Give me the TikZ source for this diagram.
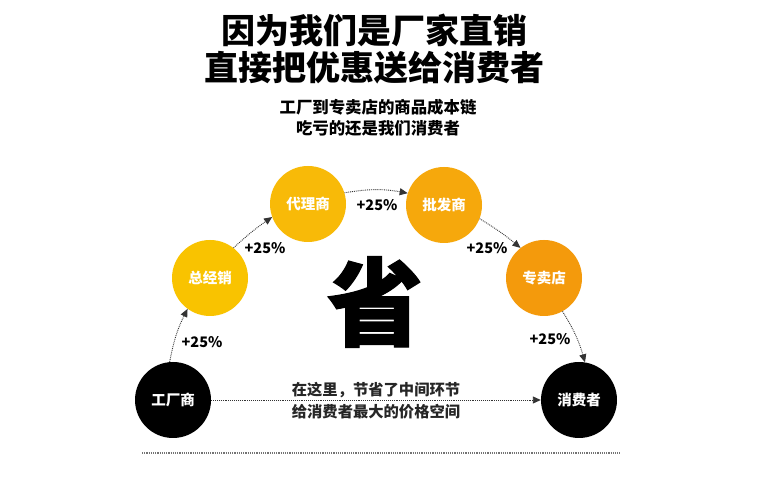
\documentclass[tikz,border=0pt]{standalone}
\usepackage{fontspec}
\usetikzlibrary{arrows.meta}
\newfontfamily\cjk{Noto Sans CJK SC}
\newfontfamily\cjkbig[FakeBold=1.2]{Noto Sans CJK SC}
\definecolor{yA}{HTML}{F9C300}
\definecolor{yB}{HTML}{F8BA08}
\definecolor{yC}{HTML}{F6A80C}
\definecolor{yD}{HTML}{F49A0C}
\definecolor{arrgray}{HTML}{333333}
\begin{document}
\begin{tikzpicture}[x=1pt,y=1pt,
  ball/.style={circle,minimum size=76pt,inner sep=0pt,text=white,font=\cjk\bfseries\fontsize{14.5}{16}\selectfont},
  arr/.style={draw=arrgray,densely dotted,line width=0.9pt,-{Triangle[length=8pt,width=7pt]}},
  pct/.style={font=\cjk\bfseries\fontsize{14.5}{16}\selectfont,text=black},
  cap1/.style={font=\cjk\bfseries\fontsize{34}{38}\selectfont,text=black,inner sep=0pt},
  cap2/.style={font=\cjk\bfseries\fontsize{16.4}{20}\selectfont,text=black,inner sep=0pt},
  cap3/.style={font=\cjk\bfseries\fontsize{15.3}{20}\selectfont,text=black!85,inner sep=0pt}]
\useasboundingbox[fill=white] (0,0) rectangle (773,478);
% titles
\node[cap1] (t1) at (374,448) {因为我们是厂家直销};
\node[cap1] (t2) at (374,410) {直接把优惠送给消费者};
\node[cap2] (s1) at (378,371) {工厂到专卖店的商品成本链};
\node[cap2] (s2) at (378,350) {吃亏的还是我们消费者};
% nodes
\node[ball,fill=black] (f) at (173,78) {工厂商};
\node[ball,fill=black] (c) at (579,78) {消费者};
\node[ball,fill=yA] (z) at (210,200) {总经销};
\node[ball,fill=yB] (d) at (308,274) {代理商};
\node[ball,fill=yC] (p) at (444,273) {批发商};
\node[ball,fill=yD] (s) at (544,200) {专卖店};
% big character
\node[font=\cjkbig\bfseries\fontsize{96}{98}\selectfont,inner sep=0pt] (big) at (375,176) {省};
% arrows
\draw[arr] (f.95) to[bend left=8] (z.234);
\draw[arr] (z.52) to[bend left=4] (d.200);
\draw[arr] (d.17) to[bend left=10] (p.162);
\draw[arr] (p.339) to[bend left=4] (s.128);
\draw[arr] (s.299) to[bend left=8] (c.81);
\draw[arr] (f.east) -- (c.west);
% percentages
\node[pct] (q1) at (202,136) {+25\%};
\node[pct] (q2) at (265,230) {+25\%};
\node[pct] (q3) at (377,273) {+25\%};
\node[pct] (q4) at (487,230) {+25\%};
\node[pct] (q5) at (550,139) {+25\%};
% bottom text
\node[cap3] (b1) at (376,88) {在这里，节省了中间环节};
\node[cap3] (b2) at (376,66) {给消费者最大的价格空间};
% bottom rule
\coordinate (r1) at (142,25);
\coordinate (r2) at (620,25);
\draw[densely dotted,line width=1.2pt,draw=black!55] (r1) -- (r2);
\end{tikzpicture}
\end{document}
